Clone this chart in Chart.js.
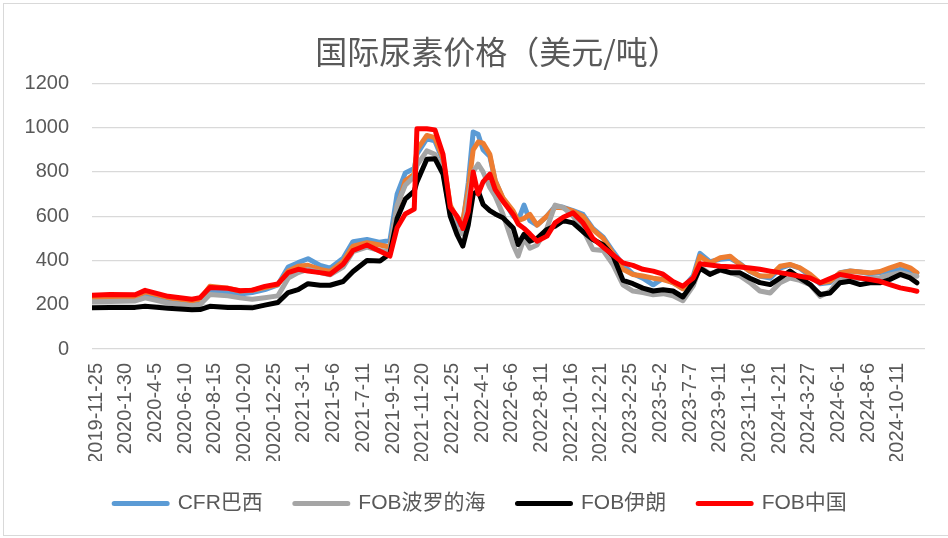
<!DOCTYPE html>
<html>
<head>
<meta charset="utf-8">
<script src="https://cdn.jsdelivr.net/npm/chart.js@4.4.1/dist/chart.umd.min.js"></script>
<style>
    html, body { margin: 0; padding: 0; background: #fff; }
    #wrap { position: relative; width: 948px; height: 538px; }
    #frame { position: absolute; left: 3px; top: 3px; width: 950px; height: 531px; border: 1px solid #d9d9d9; pointer-events: none; }
</style>
</head>
<body>
<div id="wrap">
    <canvas id="urea-chart" width="948" height="538"></canvas>
    <div id="frame"></div>
</div>
<script>
const startDate = "2019-11-25"

const tickLabels = [
    "2019-11-25", "2020-1-30", "2020-4-5", "2020-6-10", "2020-8-15", "2020-10-20", "2020-12-25",
    "2021-3-1", "2021-5-6", "2021-7-11", "2021-9-15", "2021-11-20", "2022-1-25", "2022-4-1",
    "2022-6-6", "2022-8-11", "2022-10-16", "2022-12-21", "2023-2-25", "2023-5-2", "2023-7-7",
    "2023-9-11", "2023-11-16", "2024-1-21", "2024-3-27", "2024-6-1", "2024-8-6", "2024-10-11",
]

const dates = [
    "2019-11-25", "2020-01-04", "2020-02-29", "2020-03-22", "2020-05-12", "2020-07-04", "2020-07-22",
    "2020-08-13", "2020-09-22", "2020-10-19", "2020-11-15", "2020-12-13", "2021-01-11", "2021-02-03",
    "2021-02-25", "2021-03-19", "2021-04-15", "2021-05-07", "2021-06-05", "2021-06-27", "2021-07-28",
    "2021-08-26", "2021-09-17", "2021-10-03", "2021-10-21", "2021-11-10", "2021-11-16", "2021-12-08",
    "2021-12-26", "2022-01-13", "2022-01-29", "2022-02-13", "2022-02-26", "2022-03-10", "2022-03-21",
    "2022-04-01", "2022-04-12", "2022-04-27", "2022-05-09", "2022-05-26", "2022-06-18", "2022-06-29",
    "2022-07-12", "2022-07-25", "2022-08-10", "2022-09-01", "2022-09-19", "2022-10-07", "2022-10-29",
    "2022-11-20", "2022-12-12", "2023-01-04", "2023-01-26", "2023-02-17", "2023-03-11", "2023-04-02",
    "2023-04-25", "2023-05-17", "2023-06-08", "2023-06-30", "2023-07-23", "2023-08-07", "2023-08-29",
    "2023-09-21", "2023-10-13", "2023-11-04", "2023-11-26", "2023-12-18", "2024-01-10", "2024-02-01",
    "2024-02-23", "2024-03-16", "2024-04-08", "2024-04-30", "2024-05-22", "2024-06-13", "2024-07-05",
    "2024-07-28", "2024-08-19", "2024-09-10", "2024-10-02", "2024-10-25", "2024-11-16", "2024-12-01",
]

// CFR巴西
const cfrBrazil = [
    222, 225, 222, 240, 215, 205, 215, 260, 255, 248, 255, 268, 290, 370,
    390, 408, 378, 365, 410, 485, 495, 482, 490, 700, 795, 815, 880, 950,
    940, 850, 620, 560, 560, 750, 980, 970, 900, 870, 760, 680, 600, 580,
    650, 580, 560, 600, 645, 640, 625, 608, 545, 505, 440, 380, 340, 320,
    290, 320, 300, 275, 330, 432, 395, 405, 410, 385, 350, 330, 320, 365,
    380, 365, 330, 295, 300, 345, 352, 348, 340, 345, 350, 360, 350, 344,
]
// FOB波罗的海
const fobBaltic = [
    213, 215, 217, 231, 208, 195, 200, 246, 240, 231, 225, 232, 240, 320,
    345, 360, 345, 335, 370, 440, 460, 445, 440, 650, 740, 780, 830, 895,
    880, 800, 610, 540, 520, 680, 800, 835, 800, 730, 690, 610, 470, 420,
    500, 455, 470, 547, 650, 640, 600, 540, 450, 445, 380, 290, 262, 255,
    245, 250, 240, 218, 285, 372, 340, 355, 345, 330, 300, 262, 253, 299,
    321, 310, 290, 238, 261, 320, 320, 318, 320, 322, 335, 345, 335, 329,
]
// FOB伊朗
const fobIran = [
    186, 188, 188, 193, 184, 177, 178, 193, 188, 187, 186, 198, 210, 255,
    268, 295, 288, 288, 305, 350, 400, 398, 430, 590, 677, 713, 755, 857,
    860, 790, 600, 518, 465, 560, 700, 714, 653, 625, 610, 593, 547, 472,
    518, 487, 500, 540, 555, 580, 570, 530, 495, 470, 420, 310, 295, 275,
    262, 268, 262, 235, 300, 365, 337, 358, 345, 344, 320, 300, 291, 321,
    352, 321, 291, 246, 253, 299, 306, 291, 299, 299, 314, 337, 321, 299,
]
// FOB中国
const fobChina = [
    243, 246, 245, 265, 238, 225, 232, 278, 274, 263, 266, 283, 294, 345,
    360, 352, 345, 338, 383, 445, 470, 442, 420, 548, 610, 632, 995, 995,
    990, 880, 640, 600, 545, 620, 800, 700, 755, 790, 720, 668, 608, 565,
    545, 520, 487, 510, 570, 595, 615, 570, 500, 460, 425, 389, 378, 360,
    352, 338, 305, 284, 321, 385, 380, 374, 372, 370, 366, 360, 352, 345,
    337, 329, 321, 299, 318, 337, 329, 321, 314, 306, 291, 276, 268, 261,
]
// FOB中东 (not shown in the legend)
const fobMideast = [
    231, 234, 236, 258, 232, 218, 225, 283, 275, 262, 265, 278, 291, 352,
    374, 378, 360, 350, 395, 465, 480, 470, 460, 640, 760, 790, 900, 965,
    955, 860, 650, 590, 580, 720, 900, 935, 930, 880, 760, 683, 623, 580,
    590, 608, 560, 600, 640, 638, 623, 600, 540, 500, 430, 360, 337, 330,
    320, 314, 300, 272, 321, 419, 389, 412, 419, 382, 352, 330, 330, 374,
    382, 367, 337, 299, 306, 344, 352, 348, 344, 350, 367, 382, 367, 344,
]

function dayOf(s) {
    const [y, m, d] = s.split("-").map(Number)
    const [y0, m0, d0] = startDate.split("-").map(Number)
    return Math.round((Date.UTC(y, m - 1, d) - Date.UTC(y0, m0 - 1, d0)) / 86400000)
}

function series(values) {
    return values.map((v, i) => ({ x: dayOf(dates[i]), y: v }))
}

function line(label, values, color, order) {
    return {
        label: label,
        data: series(values),
        borderColor: color,
        backgroundColor: color,
        borderWidth: 5,
        borderCapStyle: "round",
        borderJoinStyle: "round",
        pointRadius: 0,
        tension: 0,
        order: order,
    }
}

const textColor = "#595959"
const baseFont = "'Liberation Sans', 'Noto Sans CJK SC', sans-serif"

// nudge title and legend to where they sit in the original
const shiftBlocks = {
    id: "shiftBlocks",
    afterLayout(chart) {
        chart.titleBlock.left += 33
        chart.titleBlock.right += 33
        chart.legend.left += 16
        chart.legend.right += 16
    },
}

const canvas = document.getElementById("urea-chart")
const myChart = new Chart(canvas, {
    type: "line",
    data: {
        datasets: [
            line("CFR巴西", cfrBrazil, "#5b9bd5", 4),
            line("FOB波罗的海", fobBaltic, "#a5a5a5", 2),
            line("FOB伊朗", fobIran, "#000000", 1),
            line("FOB中国", fobChina, "#ff0000", 0),
            line("FOB中东", fobMideast, "#ed7d31", 3),
        ],
    },
    plugins: [shiftBlocks],
    options: {
        responsive: false,
        animation: false,
        layout: { padding: { left: 4, right: 23, top: 4, bottom: 14 } },
        plugins: {
            title: {
                display: true,
                text: "国际尿素价格（美元/吨）",
                color: textColor,
                font: { family: "'Noto Sans CJK SC', sans-serif", size: 32, weight: "normal" },
                padding: { top: 29, bottom: 12 },
            },
            legend: {
                position: "bottom",
                labels: {
                    color: textColor,
                    font: { family: baseFont, size: 21 },
                    boxWidth: 53,
                    boxHeight: 0,
                    padding: 32,
                    filter: (item) => item.datasetIndex !== 4,
                    sort: (a, b) => a.datasetIndex - b.datasetIndex,
                },
            },
            tooltip: { enabled: false },
        },
        scales: {
            x: {
                type: "linear",
                min: 0,
                max: 1851,
                grid: { display: false, drawTicks: false },
                border: { display: false },
                afterBuildTicks: (scale) => {
                    scale.ticks = tickLabels.map((t) => ({ value: dayOf(t) }))
                },
                afterFit: (scale) => {
                    scale.height = 112
                },
                ticks: {
                    autoSkip: false,
                    minRotation: 90,
                    maxRotation: 90,
                    padding: 14,
                    labelOffset: 4,
                    color: textColor,
                    font: { family: baseFont, size: 20 },
                    callback: (value, index) => tickLabels[index],
                },
            },
            y: {
                min: 0,
                max: 1200,
                grid: { color: "#d9d9d9", lineWidth: 1.3, drawTicks: false },
                border: { display: false },
                afterFit: (scale) => {
                    scale.width = 88
                },
                ticks: {
                    stepSize: 200,
                    padding: 23,
                    color: textColor,
                    font: { family: baseFont, size: 20 },
                    callback: (value) => String(value),
                },
            },
        },
    },
})
</script>
</body>
</html>
